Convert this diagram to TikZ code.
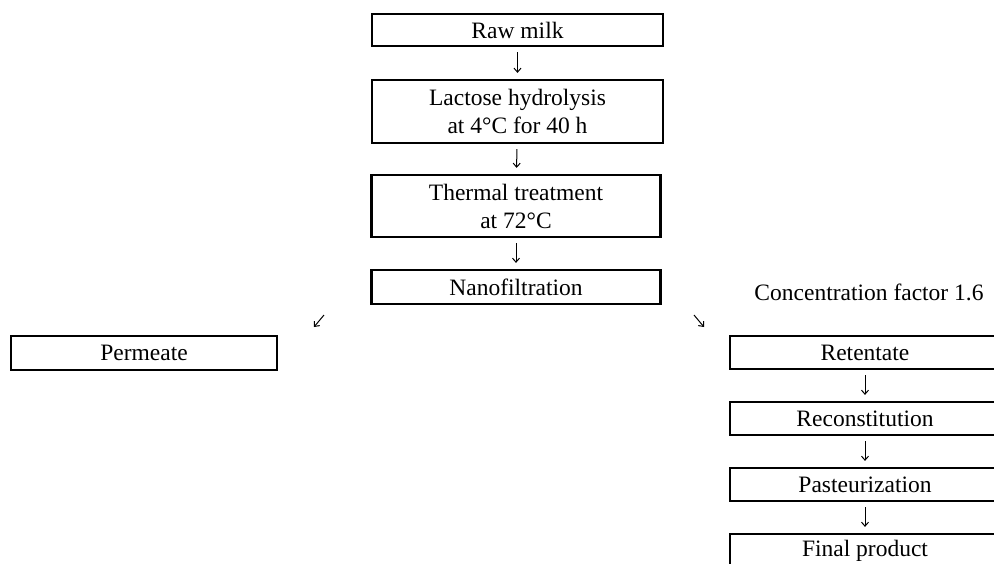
\documentclass[tikz,border=0pt]{standalone}
\usepackage{fontspec}
\setmainfont{Liberation Serif}
\usetikzlibrary{arrows.meta}
\begin{document}
\begin{tikzpicture}[x=1pt,y=-1pt,
  box/.style={draw,line width=2.2pt,inner sep=0pt,align=center,font=\fontsize{23.5}{28}\selectfont},
  lbl/.style={inner sep=0pt,font=\fontsize{23.5}{28}\selectfont},
  flow/.style={-{Straight Barb[length=4pt,width=7pt]},line width=1pt,shorten <=5pt,shorten >=6pt}]
\useasboundingbox (0,0) rectangle (994,563);
\clip (0,0) rectangle (994,563);
\node[box,minimum width=291pt,minimum height=32pt] (raw) at (517.5,30) {Raw milk};
\node[box,minimum width=291pt,minimum height=63pt] (lac) at (517.5,111.5) {Lactose hydrolysis\\at 4°C for 40 h};
\node[box,minimum width=289pt,minimum height=62pt] (therm) at (516,206) {Thermal treatment\\at 72°C};
\node[box,minimum width=289pt,minimum height=34pt] (nano) at (516,287) {Nanofiltration};
\node[lbl] (conc) at (869,292) {Concentration factor 1.6};
\node[box,minimum width=266pt,minimum height=34pt] (perm) at (144,353) {Permeate};
\node[box,minimum width=270pt,minimum height=33pt] (ret) at (865,352.5) {Retentate};
\node[box,minimum width=270pt,minimum height=33pt] (recon) at (865,418.5) {Reconstitution};
\node[box,minimum width=270pt,minimum height=33pt] (past) at (865,484.5) {Pasteurization};
\node[box,minimum width=270pt,minimum height=33pt] (final) at (865,550.5) {Final product};
\coordinate (pa) at (324,315);
\coordinate (pb) at (314,327);
\coordinate (ra) at (694,315);
\coordinate (rb) at (704,327);
\draw[flow] (raw) -- (lac);
\draw[flow] (lac) -- (therm);
\draw[flow] (therm) -- (nano);
\draw[flow,shorten <=0pt,shorten >=0pt] (pa) -- (pb);
\draw[flow,shorten <=0pt,shorten >=0pt] (ra) -- (rb);
\draw[flow] (ret) -- (recon);
\draw[flow] (recon) -- (past);
\draw[flow] (past) -- (final);
\end{tikzpicture}
\end{document}
